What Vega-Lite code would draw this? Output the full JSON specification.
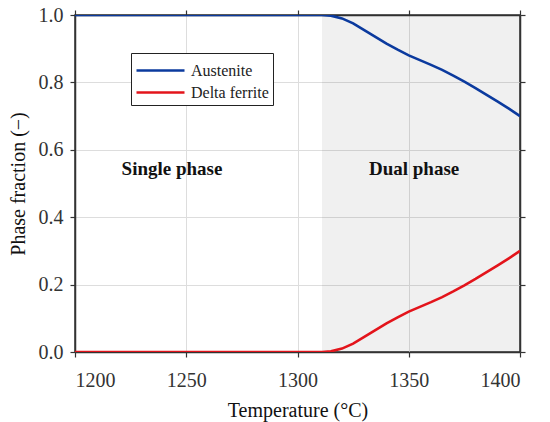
{
  "$schema": "https://vega.github.io/schema/vega-lite/v6.json",
  "width": 445,
  "height": 337,
  "autosize": {"type": "none"},
  "padding": {"left": 75, "top": 15, "right": 30, "bottom": 70},
  "background": "white",
  "datasets": {
    "region": [{"t1": 1311, "t2": 1400, "f1": 0, "f2": 1}],
    "curves": [
      {"T": 1200, "phase": "Austenite", "f": 1.0},
      {"T": 1250, "phase": "Austenite", "f": 1.0},
      {"T": 1300, "phase": "Austenite", "f": 1.0},
      {"T": 1311, "phase": "Austenite", "f": 1.0},
      {"T": 1315, "phase": "Austenite", "f": 0.998},
      {"T": 1320, "phase": "Austenite", "f": 0.99},
      {"T": 1325, "phase": "Austenite", "f": 0.975},
      {"T": 1330, "phase": "Austenite", "f": 0.955},
      {"T": 1335, "phase": "Austenite", "f": 0.935},
      {"T": 1340, "phase": "Austenite", "f": 0.915},
      {"T": 1345, "phase": "Austenite", "f": 0.897},
      {"T": 1350, "phase": "Austenite", "f": 0.88},
      {"T": 1355, "phase": "Austenite", "f": 0.866},
      {"T": 1360, "phase": "Austenite", "f": 0.852},
      {"T": 1365, "phase": "Austenite", "f": 0.837},
      {"T": 1370, "phase": "Austenite", "f": 0.82},
      {"T": 1375, "phase": "Austenite", "f": 0.802},
      {"T": 1380, "phase": "Austenite", "f": 0.783},
      {"T": 1385, "phase": "Austenite", "f": 0.763},
      {"T": 1390, "phase": "Austenite", "f": 0.743},
      {"T": 1395, "phase": "Austenite", "f": 0.722},
      {"T": 1400, "phase": "Austenite", "f": 0.70},
      {"T": 1200, "phase": "Delta ferrite", "f": 0.0},
      {"T": 1250, "phase": "Delta ferrite", "f": 0.0},
      {"T": 1300, "phase": "Delta ferrite", "f": 0.0},
      {"T": 1311, "phase": "Delta ferrite", "f": 0.0},
      {"T": 1315, "phase": "Delta ferrite", "f": 0.002},
      {"T": 1320, "phase": "Delta ferrite", "f": 0.01},
      {"T": 1325, "phase": "Delta ferrite", "f": 0.025},
      {"T": 1330, "phase": "Delta ferrite", "f": 0.045},
      {"T": 1335, "phase": "Delta ferrite", "f": 0.065},
      {"T": 1340, "phase": "Delta ferrite", "f": 0.085},
      {"T": 1345, "phase": "Delta ferrite", "f": 0.103},
      {"T": 1350, "phase": "Delta ferrite", "f": 0.12},
      {"T": 1355, "phase": "Delta ferrite", "f": 0.134},
      {"T": 1360, "phase": "Delta ferrite", "f": 0.148},
      {"T": 1365, "phase": "Delta ferrite", "f": 0.163},
      {"T": 1370, "phase": "Delta ferrite", "f": 0.18},
      {"T": 1375, "phase": "Delta ferrite", "f": 0.198},
      {"T": 1380, "phase": "Delta ferrite", "f": 0.217},
      {"T": 1385, "phase": "Delta ferrite", "f": 0.237},
      {"T": 1390, "phase": "Delta ferrite", "f": 0.257},
      {"T": 1395, "phase": "Delta ferrite", "f": 0.278},
      {"T": 1400, "phase": "Delta ferrite", "f": 0.30}
    ],
    "labels": [
      {"T": 1243.6, "f": 0.543, "text": "Single phase"},
      {"T": 1352.4, "f": 0.543, "text": "Dual phase"}
    ]
  },
  "layer": [
    {
      "data": {"name": "region"},
      "mark": {"type": "rect", "color": "#000000", "opacity": 0.06},
      "encoding": {
        "x": {
          "field": "t1", "type": "quantitative",
          "scale": {"domain": [1200, 1400], "nice": false},
          "axis": {"orient": "bottom", "values": [1200, 1250, 1300, 1350, 1400], "format": "d", "title": "Temperature (°C)", "labelPadding": 13, "titlePadding": 10}
        },
        "x2": {"field": "t2"},
        "y": {
          "field": "f1", "type": "quantitative",
          "scale": {"domain": [0, 1], "nice": false},
          "axis": {"orient": "left", "values": [0, 0.2, 0.4, 0.6, 0.8, 1.0], "format": ".1f", "title": "Phase fraction (−)", "labelPadding": 7, "titlePadding": 10}
        },
        "y2": {"field": "f2"}
      }
    },
    {
      "data": {"name": "curves"},
      "mark": {"type": "line", "strokeWidth": 2.6, "clip": true},
      "encoding": {
        "x": {
          "field": "T", "type": "quantitative",
          "axis": {"orient": "top", "values": [1200, 1250, 1300, 1350, 1400], "labels": false, "title": null, "grid": false}
        },
        "y": {
          "field": "f", "type": "quantitative",
          "axis": {"orient": "right", "values": [0, 0.2, 0.4, 0.6, 0.8, 1.0], "labels": false, "title": null, "grid": false}
        },
        "color": {
          "field": "phase", "type": "nominal",
          "scale": {"domain": ["Austenite", "Delta ferrite"], "range": ["#0b3a9e", "#e3141b"]},
          "legend": {
            "orient": "none", "legendX": 56, "legendY": 38, "title": null,
            "strokeColor": "#222222", "fillColor": "white", "padding": 4,
            "symbolType": "M-1,0H3", "symbolSize": 576, "symbolStrokeWidth": 2.6,
            "labelFontSize": 16, "labelColor": "#222222", "labelFont": "Liberation Serif",
            "rowPadding": 0, "labelOffset": 29
          }
        }
      }
    },
    {
      "data": {"name": "labels"},
      "mark": {"type": "text", "font": "Liberation Serif", "fontWeight": "bold", "fontSize": 19, "color": "#111111"},
      "encoding": {
        "x": {"field": "T", "type": "quantitative", "axis": null},
        "y": {"field": "f", "type": "quantitative", "axis": null},
        "text": {"field": "text"}
      }
    }
  ],
  "resolve": {"axis": {"x": "independent", "y": "independent"}},
  "config": {
    "font": "Liberation Serif",
    "view": {"stroke": "#333333", "strokeWidth": 1.5},
    "axis": {
      "labelFont": "Liberation Serif", "labelFontSize": 20, "labelColor": "#333333",
      "titleFont": "Liberation Serif", "titleFontSize": 20, "titleFontWeight": "normal", "titleColor": "#111111",
      "domainColor": "#333333", "domainWidth": 1.5,
      "tickColor": "#333333", "tickSize": 5, "tickWidth": 1.2,
      "gridColor": "#dddddd", "gridWidth": 1
    }
  }
}
